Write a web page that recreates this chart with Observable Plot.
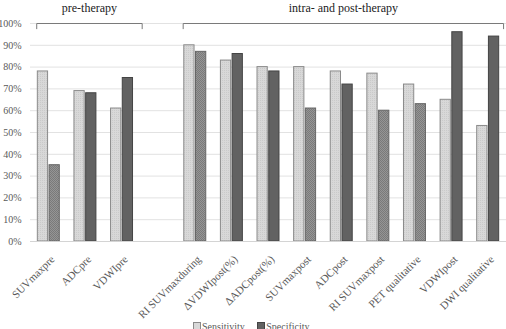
<!DOCTYPE html>
<html>
<head>
<meta charset="utf-8">
<script src="https://cdn.jsdelivr.net/npm/d3@7"></script>
<script src="https://cdn.jsdelivr.net/npm/@observablehq/plot@0.6"></script>
<style>
  html, body { margin: 0; padding: 0; background: #fff; width: 506px; height: 329px; overflow: hidden; }
  #chart { position: relative; width: 506px; height: 329px; }
  #legend { position: absolute; left: 193px; top: 321px; font: 10px "Liberation Serif", serif; color: #595959; white-space: nowrap; }
  #legend span.sw { display: inline-block; width: 6px; height: 6px; margin-right: 1px; vertical-align: 0px; }
</style>
</head>
<body>
<div id="chart"></div>
<script>
// ---- data ----
const categories = ["SUVmaxpre", "ADCpre", "VDWIpre", "RI SUVmaxduring", "ΔVDWIpost(%)", "ΔADCpost(%)", "SUVmaxpost", "ADCpost", "RI SUVmaxpost", "PET qualitative", "VDWIpost", "DWI qualitative"];
const phase = ["pre", "pre", "pre", "intra", "intra", "intra", "intra", "intra", "intra", "intra", "intra", "intra"];
const sensitivity = [78, 69, 61, 90, 83, 80, 80, 78, 77, 72, 65, 53];
const specificity = [35, 68, 75, 87, 86, 78, 61, 72, 60, 63, 96, 94];
const specHatched = [true, false, false, true, false, false, true, false, true, true, false, false];
const phaseLabels = {pre: "pre-therapy", intra: "intra- and post-therapy"};
const yTicks = [0, 10, 20, 30, 40, 50, 60, 70, 80, 90, 100];
const seriesNames = ["Sensitivity", "Specificity"];

// ---- build rows (an empty slot separates the two phases) ----
const rows = categories.map((c, i) => ({
  name: c,
  slot: i + (phase[i] === "intra" ? 1 : 0),
  sens: sensitivity[i],
  spec: specificity[i],
  hatched: specHatched[i],
  phase: phase[i]
}));
const nSlots = d3.max(rows, d => d.slot) + 1;

const groups = ["pre", "intra"].map(p => {
  const r = rows.filter(d => d.phase === p);
  const a = d3.min(r, d => d.slot) - 0.33;
  const b = Math.min(d3.max(r, d => d.slot) + 0.55, nSlots - 0.58);
  return {label: phaseLabels[p], a, b, mid: (a + b) / 2};
});
const bracketPts = groups.flatMap((g, k) => [
  {k, x: g.a, y: 97.6}, {k, x: g.a, y: 100}, {k, x: g.b, y: 100}, {k, x: g.b, y: 97.6}
]);

const plot = Plot.plot({
  width: 506,
  height: 320,
  marginTop: 23,
  marginBottom: 79,
  marginLeft: 30,
  marginRight: 0,
  style: {fontFamily: "'Liberation Serif', serif", fontSize: "10px", color: "#595959", background: "#fff"},
  x: {type: "linear", domain: [-0.5, nSlots - 0.5], axis: null},
  y: {domain: [0, 100]},
  marks: [
    Plot.gridY(yTicks, {stroke: "#e2e2e2", strokeOpacity: 1}),
    Plot.axisY(yTicks, {tickSize: 0, tickPadding: 9, tickFormat: d => d + "%", label: null, fill: "#595959"}),
    Plot.rectY(rows, {x1: d => d.slot - 0.3, x2: d => d.slot - 0.02, y: "sens", fill: "url(#sensPat)", stroke: "#8a8a8a", strokeWidth: 1}),
    Plot.rectY(rows.filter(d => !d.hatched), {x1: d => d.slot + 0.02, x2: d => d.slot + 0.3, y: "spec", fill: "#626262", stroke: "#444", strokeWidth: 1}),
    Plot.rectY(rows.filter(d => d.hatched), {x1: d => d.slot + 0.02, x2: d => d.slot + 0.3, y: "spec", fill: "url(#specPat)", stroke: "#666", strokeWidth: 1}),
    Plot.ruleY([0], {stroke: "#d4d4d4"}),
    Plot.text(rows, {x: "slot", y: 0, text: "name", rotate: -45, textAnchor: "end", dx: 4, dy: 16, fontSize: 11, fill: "#595959"}),
    Plot.line(bracketPts, {x: "x", y: "y", z: "k", stroke: "#7a7a7a", strokeWidth: 1}),
    Plot.text(groups, {x: "mid", y: 107, text: "label", fontSize: 12, fill: "#222"})
  ]
});

// patterns for textured bars
const svg = d3.select(plot);
const defs = svg.insert("defs", ":first-child");
const p1 = defs.append("pattern").attr("id", "sensPat").attr("patternUnits", "userSpaceOnUse").attr("width", 2).attr("height", 2);
p1.append("rect").attr("width", 2).attr("height", 2).attr("fill", "#d8d8d8");
p1.append("rect").attr("width", 1).attr("height", 1).attr("fill", "#cacaca");
const p2 = defs.append("pattern").attr("id", "specPat").attr("patternUnits", "userSpaceOnUse").attr("width", 2).attr("height", 2);
p2.append("rect").attr("width", 2).attr("height", 2).attr("fill", "#959595");
p2.append("rect").attr("width", 1).attr("height", 1).attr("fill", "#7a7a7a");
p2.append("rect").attr("x", 1).attr("y", 1).attr("width", 1).attr("height", 1).attr("fill", "#7a7a7a");

const chart = document.getElementById("chart");
chart.appendChild(plot);

// legend below the SVG
const legend = document.createElement("div");
legend.id = "legend";
const swFills = ["#d8d8d8", "#626262"];
seriesNames.forEach((n, i) => {
  const sw = document.createElement("span");
  sw.className = "sw";
  sw.style.background = swFills[i];
  sw.style.border = "1px solid " + (i ? "#444" : "#8a8a8a");
  legend.appendChild(sw);
  legend.appendChild(document.createTextNode(n));
  if (i === 0) legend.appendChild(document.createTextNode("\u00a0\u00a0\u00a0\u00a0\u00a0"));
});
chart.appendChild(legend);
</script>
</body>
</html>
